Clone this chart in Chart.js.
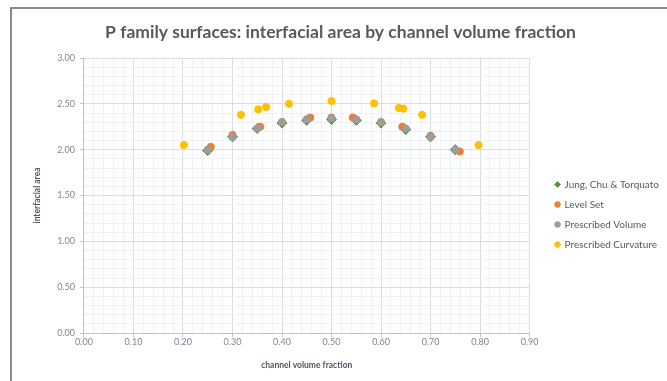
<!DOCTYPE html>
<html>
<head>
<meta charset="utf-8">
<script src="https://cdn.jsdelivr.net/npm/chart.js@4"></script>
<style>
  body { margin: 0; background: #fff; }
  #frame {
    position: absolute; left: 10px; top: 7px;
    width: 700px; height: 400px;
    border-left: 2px solid #8a8a8a; border-top: 2px solid #8a8a8a;
    overflow: hidden; background: #fff;
  }
  #chart { position: absolute; left: 0; top: 0; }
</style>
</head>
<body>
<div id="frame"><canvas id="chart" width="655" height="372"></canvas></div>
<script>
// values
var jungX = [0.25, 0.30, 0.35, 0.40, 0.45, 0.50, 0.55, 0.60, 0.65, 0.70, 0.75];
var jungY = [1.99, 2.14, 2.23, 2.29, 2.32, 2.33, 2.32, 2.29, 2.22, 2.14, 2.00];

var levelX = [0.256, 0.30, 0.356, 0.40, 0.457, 0.50, 0.543, 0.60, 0.643, 0.70, 0.759];
var levelY = [2.03, 2.16, 2.25, 2.30, 2.35, 2.35, 2.35, 2.30, 2.25, 2.15, 1.98];

var volumeX = [0.25, 0.30, 0.35, 0.40, 0.45, 0.50, 0.55, 0.60, 0.65, 0.70, 0.75];
var volumeY = [2.00, 2.14, 2.23, 2.30, 2.33, 2.34, 2.33, 2.30, 2.23, 2.14, 2.00];

var curvX = [0.202, 0.317, 0.352, 0.368, 0.414, 0.50, 0.586, 0.636, 0.645, 0.683, 0.797];
var curvY = [2.05, 2.38, 2.44, 2.465, 2.50, 2.53, 2.505, 2.455, 2.447, 2.38, 2.05];

var seriesNames = ['Jung, Chu & Torquato', 'Level Set', 'Prescribed Volume', 'Prescribed Curvature'];

function toPoints(xs, ys) {
    return xs.map((x, i) => ({ x: x, y: ys[i] }));
}

function isMajor(v, step) {
    var k = v / step;
    return Math.abs(k - Math.round(k)) < 1e-6;
}

var fontFamily = 'Lato, "Open Sans", sans-serif';
var majorGrid = '#d8dee8';
var minorGrid = '#eef1f6';
var axisColor = '#b7c2d4';
var tickText = '#7f8593';

// nudge the legend so it sits where the original one does
var legendShift = {
    id: 'legendShift',
    afterLayout(chart) {
        var lg = chart.legend;
        lg.left += 16; lg.right += 16;
        lg.top += 20; lg.bottom += 20;
    }
};

var ctx = document.getElementById('chart').getContext('2d');
var chart = new Chart(ctx, {
    type: 'scatter',
    data: {
        datasets: [
            {
                label: seriesNames[0],
                data: toPoints(jungX, jungY),
                pointStyle: 'rectRot',
                pointRadius: 5,
                backgroundColor: '#5d8f3c',
                borderColor: '#5d8f3c',
                order: 4
            },
            {
                label: seriesNames[1],
                data: toPoints(levelX, levelY),
                pointStyle: 'circle',
                pointRadius: 3.6,
                backgroundColor: '#ed7d31',
                borderColor: '#ed7d31',
                order: 3
            },
            {
                label: seriesNames[2],
                data: toPoints(volumeX, volumeY),
                pointStyle: 'circle',
                pointRadius: 3.6,
                backgroundColor: '#9d9d9d',
                borderColor: '#9d9d9d',
                order: 2
            },
            {
                label: seriesNames[3],
                data: toPoints(curvX, curvY),
                pointStyle: 'circle',
                pointRadius: 3.6,
                backgroundColor: '#ffc000',
                borderColor: '#ffc000',
                order: 1
            }
        ]
    },
    options: {
        responsive: false,
        animation: false,
        layout: { padding: { left: 16, right: 14, top: 6, bottom: 7 } },
        plugins: {
            tooltip: { enabled: false },
            title: {
                display: true,
                text: 'P family surfaces: interfacial area by channel volume fraction',
                color: '#595959',
                font: { family: fontFamily, size: 17.5, weight: 'bold' },
                padding: { top: 7, bottom: 15 }
            },
            legend: {
                position: 'right',
                labels: {
                    usePointStyle: true,
                    boxWidth: 4,
                    boxHeight: 4,
                    padding: 10,
                    color: '#595959',
                    font: { family: fontFamily, size: 10 },
                    sort: (a, b) => a.datasetIndex - b.datasetIndex
                }
            }
        },
        scales: {
            x: {
                type: 'linear',
                min: 0,
                max: 0.9,
                title: {
                    display: true,
                    text: 'channel volume fraction',
                    color: '#4f5564',
                    font: { family: fontFamily, size: 8.5, weight: 'bold' },
                    padding: { top: 12 }
                },
                border: { color: axisColor },
                grid: {
                    color: c => isMajor(c.tick.value, 0.1) ? majorGrid : minorGrid,
                    tickColor: c => isMajor(c.tick.value, 0.1) ? axisColor : 'rgba(0,0,0,0)',
                    tickLength: 4
                },
                ticks: {
                    stepSize: 0.02,
                    autoSkip: false,
                    maxRotation: 0,
                    padding: 0,
                    color: tickText,
                    font: { family: fontFamily, size: 9 },
                    callback: v => isMajor(v, 0.1) ? v.toFixed(2) : ''
                }
            },
            y: {
                type: 'linear',
                min: 0,
                max: 3,
                title: {
                    display: true,
                    text: 'interfacial area',
                    color: '#4f5564',
                    font: { family: fontFamily, size: 8.5, weight: 'bold' },
                    padding: { bottom: 10 }
                },
                border: { color: axisColor },
                grid: {
                    color: c => isMajor(c.tick.value, 0.5) ? majorGrid : minorGrid,
                    tickColor: c => isMajor(c.tick.value, 0.5) ? axisColor : 'rgba(0,0,0,0)',
                    tickLength: 4
                },
                ticks: {
                    stepSize: 0.1,
                    autoSkip: false,
                    padding: 5,
                    color: tickText,
                    font: { family: fontFamily, size: 9 },
                    callback: v => isMajor(v, 0.5) ? v.toFixed(2) : ''
                }
            }
        }
    },
    plugins: [legendShift]
});
</script>
</body>
</html>
